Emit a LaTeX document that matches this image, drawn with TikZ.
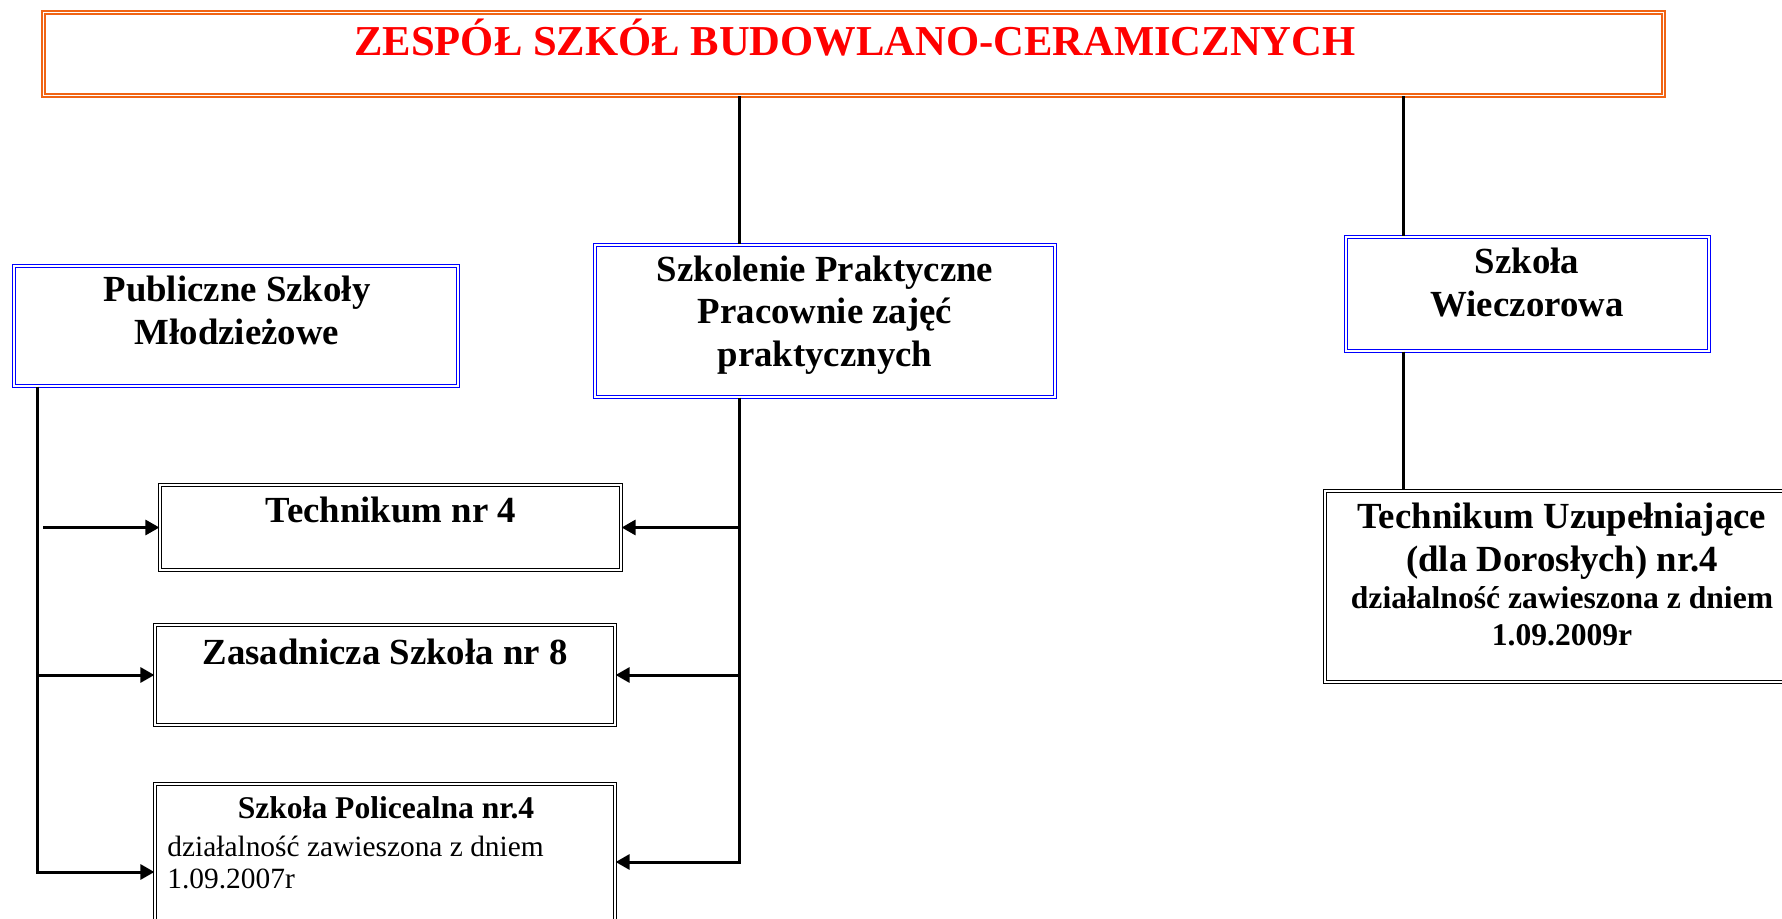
\documentclass[tikz,border=0pt]{standalone}
\usepackage{fontspec}
\setmainfont{Liberation Serif}
\usetikzlibrary{arrows.meta}
\definecolor{pomarancz}{RGB}{240,100,20}
\definecolor{niebieski}{RGB}{0,0,255}
\definecolor{czerwony}{RGB}{255,0,0}

\begin{document}
\begin{tikzpicture}[x=0.5pt,y=-0.5pt,
        ramka/.style={double=white, line width=0.6pt, double distance=0.9pt, inner sep=0pt},
        tytul/.style={ramka, draw=pomarancz},
        dzial/.style={ramka, draw=niebieski},
        szkola/.style={ramka, draw=black},
        napis/.style={font=\fontsize{18.4pt}{21.5pt}\selectfont\bfseries, align=center, anchor=base, inner sep=0pt},
        opis/.style={font=\fontsize{15.8pt}{18.5pt}\selectfont\bfseries, align=center, anchor=base, inner sep=0pt},
        linia/.style={line width=1.5pt},
        strzalka/.style={linia, -{Triangle[length=7pt,width=7.5pt]}}]
        \path[use as bounding box, clip] (0,0) rectangle (1782,919);

        % ramki
        \node[tytul, minimum width=810pt, minimum height=41.5pt] (tyt) at (853.5,54) {};
        \node[dzial, minimum width=222pt, minimum height=60pt] (pub) at (236,326) {};
        \node[dzial, minimum width=230pt, minimum height=76pt] (szk) at (825,321) {};
        \node[dzial, minimum width=181.5pt, minimum height=57pt] (wie) at (1527.5,294) {};
        \node[szkola, minimum width=240.5pt, minimum height=95.5pt] (tu) at (1565.5,586.5) {};
        \node[szkola, minimum width=230.5pt, minimum height=42.5pt] (tech) at (390.5,527.5) {};
        \node[szkola, minimum width=230pt, minimum height=50pt] (zas) at (385,675) {};
        \node[szkola, minimum width=230pt, minimum height=88pt] (pol) at (385,872) {};

        % napisy (base = ostatnia linia)
        \node[anchor=base, inner sep=0pt, text=czerwony, font=\fontsize{21.3pt}{25pt}\selectfont\bfseries]
            (tyt-txt) at (855,56) {ZESPÓŁ SZKÓŁ BUDOWLANO-CERAMICZNYCH};
        \node[napis] (pub-txt) at (237,345) {Publiczne Szkoły\\Młodzieżowe};
        \node[napis] (szk-txt) at (825,367) {Szkolenie Praktyczne\\Pracownie zajęć\\praktycznych};
        \node[napis] (wie-txt) at (1527,317) {Szkoła\\Wieczorowa};
        \node[napis] (tu-txt) at (1562,571) {Technikum Uzupełniające\\(dla Dorosłych) nr.4};
        \node[opis] (tu-opis) at (1562,645) {działalność zawieszona z dniem\\1.09.2009r};
        \node[napis] (tech-txt) at (391,522) {Technikum nr 4};
        \node[napis] (zas-txt) at (385,664) {Zasadnicza Szkoła nr 8};
        \node[opis] (pol-txt) at (386,818) {Szkoła Policealna nr.4};
        \node[anchor=base west, inner sep=0pt, align=left, font=\fontsize{14.7pt}{16pt}\selectfont]
            (pol-opis) at (167,888) {działalność zawieszona z dniem\\1.09.2007r};

        % polaczenia
        \coordinate (lbus) at (37,0);
        \coordinate (pbus) at (739,0);
        \coordinate (wbus) at (1403,0);
        \draw[linia] (tyt.south -| pbus) -- (szk.north -| pbus);
        \draw[linia] (tyt.south -| wbus) -- (wie.north -| wbus);
        \draw[linia] (wie.south -| wbus) -- (tu.north -| wbus);

        \draw[strzalka] (pub.south -| lbus) |- (pol.west);
        \draw[strzalka] ([xshift=3pt]lbus |- tech.west) -- (tech.west);
        \draw[strzalka] (lbus |- zas.west) -- (zas.west);

        \draw[strzalka] (szk.south -| pbus) |- ([yshift=5pt]pol.east);
        \draw[strzalka] (pbus |- tech.east) -- (tech.east);
        \draw[strzalka] (pbus |- zas.east) -- (zas.east);
\end{tikzpicture}
\end{document}
